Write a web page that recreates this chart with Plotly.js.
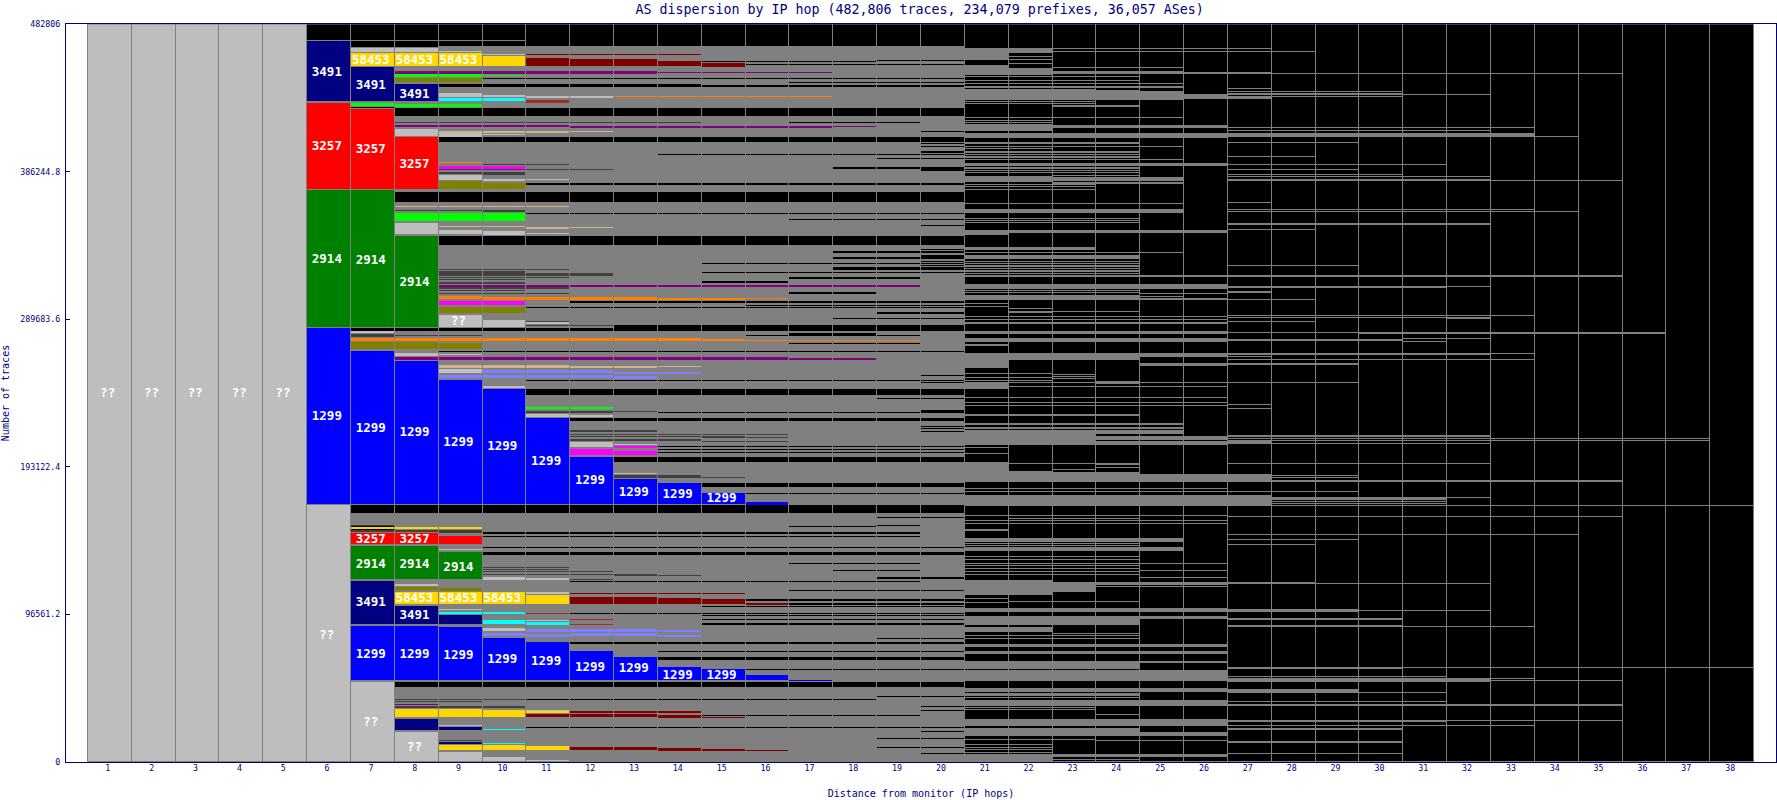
<!DOCTYPE html>
<html><head><meta charset="utf-8">
<script src="https://cdn.plot.ly/plotly-3.0.1.min.js"></script>
<style>html,body{margin:0;padding:0;background:#fff}#c{width:1777px;height:800px}</style>
</head><body><div id="c"></div>
<script>
const chartTitle='AS dispersion by IP hop (482,806 traces, 234,079 prefixes, 36,057 ASes)';
const hops=Array.from({length:38},(_,i)=>i+1);
const yTickVals=[0,96561.2,193122.4,289683.6,386244.8,482806];
const yTickText=['0','96561.2','193122.4','289683.6','386244.8','482806'];
// every row below is in thousands of traces: [top, bottom, firstHop, lastHop]
const navyBlocks=[[471.6,431.5,6,6],[454.4,431.5,7,7],[443.3,431.5,8,8],[118.7,89.7,7,7],[102.2,89.7,8,8],[96.3,89.7,9,9],[28.2,20.3,8,8],[23,20.3,9,9],[13.1,11.8,9,9]];
const redBlocks=[[431,374.5,6,6],[427.5,374.5,7,7],[408.6,374.5,8,8],[149.7,141.7,7,8],[148,141.7,9,9]];
const greenBlocks=[[374,284.2,6,7],[344.4,284.2,8,8],[141,119.2,7,8],[137.5,119.2,9,9]];
const blueBlocks=[[284,168.3,6,6],[269.1,168.3,7,7],[262.6,168.3,8,8],[250.1,168.3,9,9],[244.2,168.3,10,10],[225,168.3,11,11],[199.7,168.3,12,12],[185.3,168.3,13,13],[182.7,168.3,14,14],[176.1,168.3,15,15],[170.2,168.3,16,16],[89,53,7,8],[88.4,53,9,9],[81.2,53,10,10],[78.6,53,11,11],[72.7,53,12,12],[68.8,53,13,13],[62.2,53,14,14],[60.9,53,15,15],[57,53,16,16],[53.8,53.2,17,17]];
const goldBlocks=[[463.8,455,7,9],[461.6,455,10,10],[111.3,102.8,8,10],[109.4,102.8,11,11],[34.5,29,8,9],[34.1,29,10,10],[11.2,7.2,9,10],[10.5,7.2,11,11],[33,32.4,11,11],[153.4,152.8,7,9]];
const limeBlocks=[[430.8,428.2,7,7],[430.4,428.2,8,9],[450,448.3,8,9],[449.4,448.8,10,10],[359.4,353.6,8,8],[359,353.6,9,10],[231.9,231.3,11,12]];
const oliveBlocks=[[447.6,443.9,8,8],[447.2,443.9,9,9],[379.8,374.5,9,9],[378.7,374.5,10,10],[297.7,293.3,9,9],[297.5,293.3,10,10],[275,269.8,7,8],[274,269.8,9,9],[114.6,112,8,8],[113.9,112,9,9]];
const cyanBlocks=[[434.1,431.5,9,10],[98.2,96.9,9,10],[93,89.7,10,10],[91.7,89.7,11,11],[21.4,20.8,10,10],[12.5,11.9,10,10]];
const purpleBlocks=[[451.8,450.4,8,13],[451.2,450.6,14,14],[451.1,450.5,15,17],[416.8,415.1,8,11],[416.4,415.1,12,14],[416.3,415,15,17],[415.8,415.2,18,18],[312.3,311.3,9,14],[312.2,310.9,15,16],[311.7,311.1,17,19],[265,263.2,8,14],[264.9,263.2,15,16],[264.5,263.5,17,17],[263.9,263.3,18,18],[38.1,37.5,8,8]];
const magentaBlocks=[[389.6,388.3,9,10],[301.6,298.6,9,9],[301.4,298.6,10,10],[204.7,200.2,12,12],[206.9,205.2,13,13],[203.6,200.4,13,13]];
const orangeBlocks=[[392.5,391.9,9,9],[435.5,434.9,13,14],[435.4,434.8,15,17],[305.1,302.5,9,9],[304.5,302.5,10,13],[303.8,302.5,14,14],[303.7,302.2,15,15],[303.4,302.8,16,16],[277.6,275.7,7,14],[276.9,275.6,15,15],[276.3,275.7,16,19]];
const tanBlocks=[[413.1,411.6,9,11],[412.6,412,12,12],[363.5,362.9,8,11],[350.4,349.8,9,10],[350.3,349,11,11],[349.7,349.1,12,12],[260,258,9,11],[259.3,258,12,13],[258.9,258.3,14,14]];
const periwinkleBlocks=[[253.2,250.6,9,9],[256.7,253.8,10,12],[253.2,250.6,10,12],[255.4,253.8,13,13],[252.7,250.6,13,13],[254.8,254.2,14,14],[84.5,81.9,10,10],[87.1,84.5,11,11],[83.8,81.9,11,11],[87.1,85.1,12,13],[84.5,81.9,12,13],[86.4,85.1,14,14],[83.2,81.9,14,14]];
const darkRedBlocks=[[463.2,462.6,11,14],[460.3,455,11,11],[459.6,455,12,13],[458.3,455,14,14],[457.3,455,15,15],[110.7,110.1,12,15],[108,102.8,12,13],[107.4,102.8,14,14],[106.7,102.8,15,15],[104.1,102.8,16,16],[31.5,29,11,13],[30.8,29,14,14],[29.5,28.9,15,15],[33,32.4,12,14],[9.8,7.2,12,13],[9.2,7.2,14,14],[8.2,7.2,15,15],[7.9,7.3,16,16]];
const brownBlocks=[[432.8,431.5,11,11],[97.7,97.1,11,11],[93.3,92.7,12,12],[90.5,89.9,12,12]];
const darkBlocks=[[418.5,418,8,14],[361.3,360.7,8,9],[360.8,360.2,10,10],[387.7,387.1,9,12],[386.1,384.3,9,10],[391,390.4,10,11],[322.4,321.8,9,11],[320.9,320.3,9,10],[319.6,319,9,12],[318.3,317.7,9,12],[317,316.4,9,11],[315.7,315.1,9,10],[314.3,313.3,9,10],[310.4,309.8,9,11],[308.6,308,9,10],[306.9,306.3,9,11],[280.2,278.3,7,7],[279.2,278.6,8,9],[288.2,287.6,11,11],[285.8,285.2,11,12],[229.8,228.3,11,12],[229.5,229,13,13],[216.8,216.2,12,13],[214.6,214,12,15],[213.3,212.7,12,15],[211.5,209.8,12,14],[214.8,214.2,15,16],[212.8,212.2,15,16],[210.2,209.6,15,16],[187.9,186,13,14],[186.6,186,15,15],[127.8,127.2,10,11],[126.5,125.9,10,11],[124.7,124.1,10,12],[123,122.4,10,13],[122.5,121.9,13,14],[119.9,119.3,12,12],[154.8,154.2,7,7],[151.9,150.6,7,8],[151.9,149.9,9,9],[41.3,40.7,8,10],[40,39.4,8,9],[36.3,35.7,8,8],[36.7,35.4,9,10],[14.5,13.9,9,9]];
const lightBlocks=[[482.806,0,1,5],[168,0,6,6],[467,464,7,8],[464.8,464,9,9],[463.3,462.2,10,10],[437.4,434.7,9,9],[436.5,434.7,10,10],[436,434.7,11,12],[414.4,409,8,8],[411.2,409,9,9],[410.6,410,10,10],[383.7,380.4,9,9],[381.7,380.4,10,10],[381.1,380.5,11,11],[352.9,344.8,8,8],[348.3,345,9,9],[347.2,345,10,10],[346,345.4,11,11],[292.7,284.2,9,9],[289.4,284.2,10,10],[287.5,286.9,11,11],[281.8,280.7,7,7],[267.4,265.8,8,8],[266.8,266.2,9,9],[257.3,253.8,9,9],[246.2,244.9,10,10],[227.9,225.7,11,11],[227.2,225.7,12,12],[209.1,205.4,12,12],[208,207.5,13,13],[189.1,188.5,13,13],[116.6,115.2,8,8],[139.1,138.5,9,9],[99.8,99.2,9,9],[121.1,119.2,10,10],[120.2,119.2,11,11],[87.8,85.1,10,10],[111.3,110,11,11],[52.6,0,7,7],[19.7,0,8,8],[24.3,23.6,9,9],[6.6,0,9,9],[3.3,0,10,10],[1,0.4,11,11],[33.9,33.3,11,11],[93,92.4,11,11]];
const grayBands=[[468.1,0,9,20],[455,0,8,8],[163,154.5,7,7],[282,269,7,7],
[467.4,463.9,21,22],[463.9,459.1,21,21],[456,449.3,21,21],[454.3,449.3,22,22],[452.1,449.9,23,24],[452.3,449.9,25,25],[451,450.1,26,27],[440.6,432.9,21,23],[439.5,432.9,24,24],[438.8,433.3,25,25],[437.2,434,26,26],[417.6,412.8,21,22],[417,414.6,23,26],[411.8,408.5,21,26],[391.9,389.7,21,26],[383.2,379.5,21,22],[382.7,380.1,23,25],[362,359.4,21,25],[348,344.5,21,21],[348,346.7,22,26],[318.8,317,21,26],[312.9,309.6,21,26],[305.7,302,21,24],[302.6,302,25,26],[281.7,280.2,21,26],[277.6,274.7,21,26],[267.7,262.7,21,24],[267.7,264.9,25,26],[261.2,259,25,26],[264,258,21,21],[248.5,244.2,21,21],[227.8,226.1,21,24],[214.3,207.1,21,23],[213.6,210.8,24,26],[210.3,207.1,24,26],[196.2,183.1,21,21],[190.3,183.1,22,22],[189.6,183.1,23,24],[188.5,183.1,25,26],[174.8,167.8,21,27],[146.6,143.8,21,25],[140.9,138.3,21,25],[119,109.5,21,22],[117.6,111.5,23,23],[117.6,115.9,24,26],[101,98,21,26],[95.8,89.7,21,24],[95.8,93.5,25,26],[88,85,21,22],[77.3,75.1,21,26],[72.9,70.7,21,26],[66.3,60.9,21,24],[66.3,65.2,25,26],[60.4,53.2,21,26],[48.2,45.6,21,26],[40.8,36.9,21,26],[28.2,23.8,21,26],[22,17.2,21,24],[19.5,17.2,25,26],[5.2,0.2,21,22],[5.2,3,23,26],
[436,433.5,27,27],[411.2,410.1,27,33],[391.3,390.7,27,28],[381.5,380.2,27,32],[318.4,317.6,27,35],[311.7,309.9,27,31],[276.8,275.7,27,30],[267.6,266.3,27,32],[263.7,263,27,33],[214.1,213,27,32],[210,208.2,27,27],[188.6,184.6,27,27],[117.5,116.5,27,28],[100,98.7,27,29],[62.4,61.1,27,30],[54.2,52.6,27,32],[47.6,45.4,27,29],[27.5,26.2,27,31],[22.1,21,27,30]];
const blackBands=[[427.8,422.3,8,19],[427.7,422.3,20,20],[408.6,405.9,9,20],[373.2,366.6,8,20],[344.4,338.5,9,20],[285.6,282,13,20],[283.7,282.2,8,12],[244.2,240.3,11,20],[225.2,222.8,12,20],[199.7,196.4,13,20],[182.7,180,15,20],[167.9,163,7,20],[137.5,135.5,10,20],[106.7,105.4,16,20],[78.8,77.5,12,20],[68.7,66.8,14,20],[52.6,49.2,8,20],[443.3,441.9,9,14],[442.9,442,15,20],[459.1,456.3,21,21],[230.4,228.7,20,20]];
// thin rules: [traces in thousands, firstHop, lastHop]
const grayRules=[[471.8,7,10],[461.3,22,22],[459.5,22,22],[456.9,22,22],[466.5,23,27],[464.6,23,28],[454.3,23,25],[448.2,21,24],[446,21,24],[443.8,21,25],[441.6,21,25],[430.7,21,23],[429.2,23,24],[432,21,23],[421.9,21,24],[419.8,21,22],[418.5,21,22],[421.6,25,25],[405,21,24],[402.4,21,25],[401.3,21,22],[399.1,21,24],[397.6,21,24],[395.8,21,24],[394.1,21,25],[388.6,21,24],[387.1,21,24],[385.6,21,24],[383.8,23,24],[378.8,23,25],[377.9,21,23],[376.6,21,23],[374.7,21,23],[365.3,21,25],[355.5,21,24],[354.4,21,24],[352.8,21,24],[336.3,21,23],[335.2,21,23],[333.2,21,25],[331,21,24],[329.7,21,24],[327.7,21,24],[326,21,24],[324.5,21,24],[323,21,24],[321.2,21,24],[319.5,21,24],[308.5,21,24],[307,21,24],[306.5,25,26],[304.8,25,25],[303.5,25,26],[299.8,21,21],[298,21,21],[296.5,22,22],[294.4,22,22],[295,23,24],[291.7,20,26],[289.6,20,26],[287.8,20,26],[286.7,20,26],[272.8,21,21],[254,21,22],[251.8,21,22],[249.6,21,22],[253.5,23,23],[252.2,23,23],[250.7,23,23],[249.2,24,24],[247.9,24,24],[248.1,22,26],[245.9,22,26],[238.7,21,26],[235.4,21,26],[233.3,21,26],[221.7,21,25],[220.6,21,25],[219.1,21,25],[218,21,25],[216.5,21,25],[215.2,21,25],[205.6,21,21],[201.6,21,21],[195.5,22,23],[191.6,23,23],[195,24,24],[192.5,24,24],[179.2,21,26],[177,21,26],[161.3,21,26],[158,21,26],[155.8,21,26],[159.5,22,24],[152.1,21,21],[151.4,21,21],[143,21,24],[141.5,21,24],[134.4,21,24],[132.5,21,24],[130,21,24],[128.3,21,24],[126.4,21,24],[124.6,21,24],[122.8,21,24],[129.6,25,26],[125.3,25,26],[120.9,25,26],[114.6,24,26],[107,21,21],[105,22,24],[104.5,21,21],[84,23,24],[82.7,21,24],[81,21,24],[44.5,21,24],[43.4,21,24],[42.1,21,24],[35.8,21,23],[34.3,21,23],[31,24,24],[15,21,23],[14,24,26],[11.4,21,22],[9.6,21,22],[8.1,21,22],[6.3,21,22],[1.5,23,24],
[467,27,27],[464.6,27,28],[450.2,27,35],[440.6,27,27],[438.9,27,30],[437.4,27,30],[435.2,27,30],[436.5,27,32],[414.9,27,33],[413.4,27,32],[409,27,34],[405.1,27,29],[395.9,27,28],[390.9,29,31],[387.6,27,29],[384.3,27,30],[382.8,27,32],[380.2,33,35],[365.8,27,27],[361.4,27,33],[359.9,27,34],[352,27,32],[348.1,27,28],[324.8,27,29],[311.2,32,32],[307.5,27,27],[302.5,27,28],[292,27,33],[291,27,31],[290.5,32,32],[288.3,27,28],[281.1,27,29],[280.7,30,36],[276.8,31,32],[275.2,31,31],[267,33,33],[265.4,27,27],[260.4,27,29],[248,27,29],[233.8,27,27],[231.2,27,27],[211.7,27,37],[210.4,27,37],[208.6,27,32],[195.5,27,32],[187.2,28,29],[186.4,28,29],[183.8,27,35],[177.2,27,29],[173.1,27,32],[172.6,28,31],[171.5,28,31],[170.2,28,31],[168.9,28,31],[168,27,38],[160.6,27,35],[149.1,27,34],[145.4,27,29],[142.1,27,28],[117,29,32],[99.1,30,32],[94.1,27,30],[93,27,30],[89,27,30],[88.6,31,33],[62,31,38],[55.9,27,31],[54.8,27,33],[53.1,33,35],[45.6,30,31],[39.5,27,31],[37.3,27,35],[27.1,32,35],[23.6,27,33],[13.1,27,30],[5.3,27,30]];
const blackRules=[[458.2,15,18],[456.5,16,18],[458.9,19,20],[456.5,19,20],[447,10,20],[444.3,17,20],[418.3,17,19],[412.2,20,20],[404.5,20,20],[402.8,20,20],[399.1,20,20],[397.3,14,20],[394.7,19,20],[388.6,18,20],[387.3,20,20],[378.1,11,20],[358.7,11,20],[354.8,17,20],[351.1,20,20],[335.2,20,20],[333.6,18,20],[331,20,20],[329.7,18,20],[327.7,20,20],[326.4,15,20],[325,20,20],[323.2,18,20],[322.1,18,20],[320.5,15,20],[316.6,17,19],[314.4,15,16],[313.6,15,16],[306.8,17,18],[300.9,12,20],[297.3,11,20],[298.7,16,20],[293.7,19,20],[290,18,20],[280,17,18],[279.1,16,19],[273.6,17,19],[268.8,9,20],[252.7,20,20],[249.7,11,20],[248.5,20,20],[237.8,19,20],[228.9,14,20],[219.7,20,20],[218,20,20],[216,20,20],[206.6,14,20],[204.7,14,20],[202.5,14,20],[175.9,15,20],[159.9,19,20],[154.7,19,19],[154.3,17,18],[149.8,10,19],[147.8,10,19],[140.4,10,20],[130,17,19],[125.5,18,19],[120.4,19,20],[118.2,12,19],[112.4,17,20],[103.4,17,20],[101.9,15,20],[96.9,12,20],[95.8,15,20],[93,15,20],[90.3,15,20],[81,19,20],[72.5,14,20],[60.5,16,21],[41,11,18],[43,19,20],[30.6,15,19],[22.7,11,20],[15.5,19,20],[9.6,19,20],[5.7,20,20],[36.5,20,20],[33.8,20,20],[20,20,20]];
const labelHops=[1,2,3,4,5,6,6,6,6,6,7,7,7,7,7,7,7,7,7,7,8,8,8,8,8,8,8,8,8,8,8,9,9,9,9,9,9,10,10,10,11,11,12,12,13,13,14,14,15,15];
const labelValues=[241.6,241.6,241.6,241.6,241.6,452,403.3,329.3,226.5,83.6,459.6,443.3,401.4,328.7,218.7,146,130.1,104.8,71.2,26.4,459.6,437.4,391.8,314.3,216.1,146,130.1,107.4,96.3,71.2,10.5,459.6,288.7,209.5,128.3,107.4,70.7,206.9,107.4,67.5,197.1,66.2,184.7,62.9,176.8,61.6,175.5,57.6,172.9,57.6];
const labelTexts=['??','??','??','??','??','3491','3257','2914','1299','??','58453','3491','3257','2914','1299','3257','2914','3491','1299','??','58453','3491','3257','2914','1299','3257','2914','58453','3491','1299','??','58453','??','1299','2914','58453','1299','1299','58453','1299','1299','1299','1299','1299','1299','1299','1299','1299','1299','1299'];

const GRAY='#808080',THOUSAND=1000,THIN=0.7,HAIR=0.1;
function bandTrace(rows,color,outlined){
  // rows thinner than a pixel are drawn as hairlines so the renderer keeps them one pixel tall
  const tops=rows.map(r=>(r[0]-r[1])<THIN?(r[0]+r[1]+HAIR)/2:r[0]);
  const bots=rows.map(r=>(r[0]-r[1])<THIN?(r[0]+r[1]-HAIR)/2:r[1]);
  return {type:'bar',orientation:'v',hoverinfo:'skip',
    x:rows.map(r=>(r[2]+r[3])/2),width:rows.map(r=>r[3]-r[2]+1),
    base:bots.map(v=>v*THOUSAND),y:tops.map((t,i)=>(t-bots[i])*THOUSAND),
    marker:{color:color,line:{color:GRAY,width:outlined?rows.map(r=>(r[0]-r[1])>=2.4?1:0):0}}};
}
const ruleRows=rows=>rows.map(r=>[r[0]+0.05,r[0]-0.05,r[1],r[2]]);
const columnRows=hops.filter(h=>h>=6).map(h=>[482.806,0,h,h]);
const frameRows=hops.map(h=>[482.806,0,h,h]);
const frame=bandTrace(frameRows,'rgba(0,0,0,0)',false);
frame.marker.line={color:GRAY,width:1};
const traces=[
  bandTrace(columnRows,'#000000',false),
  bandTrace(grayBands,GRAY,false),
  bandTrace(blackBands,'#000000',false),
  bandTrace(ruleRows(blackRules),'#000000',false),
  bandTrace(ruleRows(grayRules),GRAY,false),
  bandTrace(darkBlocks,'#404040',false),
  bandTrace(lightBlocks,'#bebebe',true),
  bandTrace(navyBlocks,'#000080',true),
  bandTrace(redBlocks,'#ff0000',true),
  bandTrace(greenBlocks,'#008000',true),
  bandTrace(blueBlocks,'#0000ff',true),
  bandTrace(goldBlocks,'#ffd700',true),
  bandTrace(limeBlocks,'#00ff00',true),
  bandTrace(oliveBlocks,'#808000',true),
  bandTrace(cyanBlocks,'#00ffff',true),
  bandTrace(purpleBlocks,'#800080',true),
  bandTrace(magentaBlocks,'#ff00ff',true),
  bandTrace(orangeBlocks,'#ff8000',true),
  bandTrace(tanBlocks,'#d2b48c',true),
  bandTrace(periwinkleBlocks,'#8080ff',true),
  bandTrace(darkRedBlocks,'#800000',true),
  bandTrace(brownBlocks,'#a52a2a',true),
  frame,
  {type:'scatter',mode:'text',hoverinfo:'skip',x:labelHops.map(h=>h-0.05),y:labelValues.map(v=>(v-1)*THOUSAND),text:labelTexts,
   textposition:'middle center',textfont:{family:'"DejaVu Sans Mono",monospace',size:12.5,color:'#ffffff',weight:700}}
];
const NAVY='#000080',MONO='"DejaVu Sans Mono",monospace';
const layout={
  width:1777,height:800,paper_bgcolor:'#ffffff',plot_bgcolor:'#ffffff',showlegend:false,hovermode:false,
  barmode:'overlay',bargap:0,
  margin:{l:65.5,r:0.5,t:24,b:38,pad:0},
  title:{text:chartTitle,x:0.5175,xanchor:'center',y:0.994,yanchor:'top',font:{family:MONO,size:13.3,color:NAVY}},
  xaxis:{range:[0,39],tickmode:'array',tickvals:hops,ticktext:hops.map(String),ticks:'',showgrid:false,zeroline:false,
    showline:true,linecolor:NAVY,linewidth:1,mirror:true,tickfont:{family:MONO,size:8.3,color:NAVY},ticklabelshift:-2,ticklabelstandoff:-2,
    title:{text:'Distance from monitor (IP hops)',font:{family:MONO,size:10,color:NAVY},standoff:18}},
  yaxis:{range:[0,482806],tickmode:'array',tickvals:yTickVals,ticktext:yTickText,ticks:'inside',ticklen:4,tickcolor:NAVY,tickwidth:1,
    showgrid:false,zeroline:false,showline:true,linecolor:NAVY,linewidth:1,mirror:true,tickfont:{family:MONO,size:8.3,color:NAVY},ticklabelstandoff:3,
    title:{text:'Number of traces',font:{family:MONO,size:10,color:NAVY},standoff:18}},
  shapes:[{type:'line',layer:'above',xref:'x',yref:'y',x0:0.5,x1:38.5,y0:482806,y1:482806,line:{color:GRAY,width:1}}]
};
Plotly.newPlot('c',traces,layout,{displayModeBar:false});
</script></body></html>
